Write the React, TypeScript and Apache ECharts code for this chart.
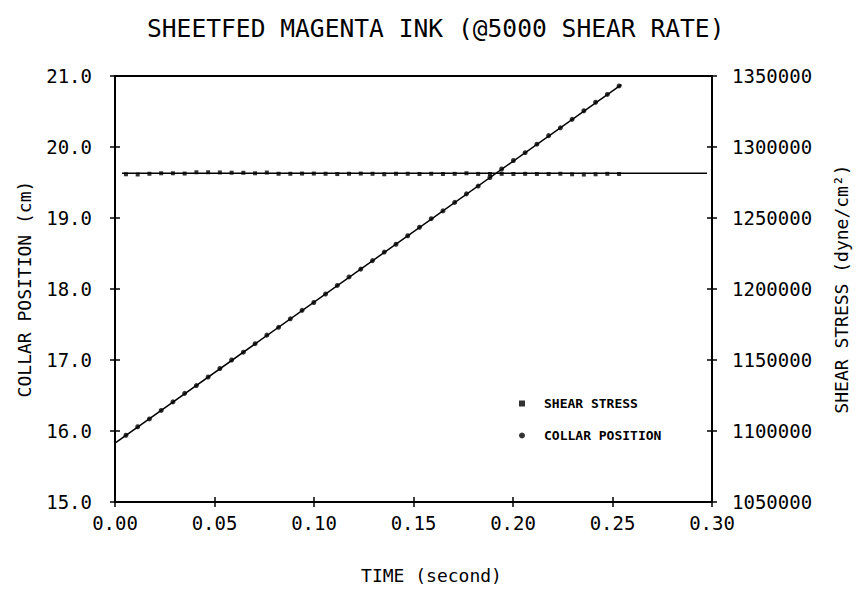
import React, { useEffect, useRef } from "react";
import * as echarts from "echarts";

const FONT = "DejaVu Sans Mono";

const titleText = "SHEETFED MAGENTA INK (@5000 SHEAR RATE)";
const xName = "TIME (second)";
const yLeftName = "COLLAR POSITION (cm)";
const yRightName = "SHEAR STRESS (dyne/cm\u00B2)";
const legendNames = ["SHEAR STRESS", "COLLAR POSITION"];

const times = [
  0.0055, 0.0114, 0.0173, 0.0232, 0.0291, 0.035, 0.0409, 0.0468, 0.0527, 0.0586,
  0.0645, 0.0704, 0.0763, 0.0822, 0.0881, 0.094, 0.0999, 0.1058, 0.1117, 0.1176,
  0.1235, 0.1294, 0.1353, 0.1412, 0.1471, 0.153, 0.1589, 0.1648, 0.1707, 0.1766,
  0.1825, 0.1884, 0.1943, 0.2002, 0.2061, 0.212, 0.2179, 0.2238, 0.2297, 0.2356,
  0.2415, 0.2474, 0.2533,
];

const collarPosition = [
  15.94, 16.06, 16.17, 16.29, 16.41, 16.53, 16.64, 16.76, 16.88, 17.0,
  17.11, 17.23, 17.35, 17.46, 17.58, 17.7, 17.81, 17.93, 18.05, 18.17,
  18.28, 18.4, 18.52, 18.63, 18.75, 18.87, 18.99, 19.1, 19.22, 19.34,
  19.45, 19.57, 19.69, 19.81, 19.92, 20.04, 20.16, 20.27, 20.39, 20.51,
  20.63, 20.74, 20.86,
];

const shearStress = [
  1280800, 1280650, 1281150, 1281500, 1281500, 1281300, 1282200, 1282200, 1282060, 1281900,
  1281850, 1281500, 1282000, 1281150, 1281150, 1281300, 1281300, 1281150, 1280950, 1281150,
  1281300, 1281150, 1280800, 1281150, 1281150, 1281000, 1281150, 1281000, 1281100, 1281500,
  1281050, 1281000, 1281100, 1281000, 1281100, 1281000, 1281000, 1281150, 1280800, 1280600,
  1280800, 1281100, 1281000,
];

const collarFitX = [0, 0.2545];
const collarFitY = [15.83, 20.88];
const shearFitX = [0.0035, 0.2975];
const shearFitY = [1281500, 1281500];

const xTicks = { min: 0, max: 0.3, interval: 0.05 };
const yLeftTicks = { min: 15, max: 21, interval: 1 };
const yRightTicks = { min: 1050000, max: 1350000, interval: 50000 };

export default function App() {
  const ref = useRef<HTMLDivElement>(null);
  useEffect(() => {
    if (!ref.current) return;
    const chart = echarts.init(ref.current, null, { renderer: "svg" });
    // ticks cross the frame: axes are shifted 5px inward, ticks 10px long outward
    const tick = { show: true, inside: false, length: 10, lineStyle: { color: "#000", width: 1.5 } };
    const labelStyle = { color: "#000", fontFamily: FONT, fontSize: 19 };
    const nameStyle = { color: "#000", fontFamily: FONT, fontSize: 18 };

    chart.setOption({
      animation: false,
      backgroundColor: "#fff",
      title: {
        text: titleText,
        left: 142,
        top: 11,
        textStyle: { color: "#000", fontFamily: FONT, fontSize: 24.6, fontWeight: "normal" },
      },
      grid: {
        left: 115,
        right: 156,
        top: 76,
        bottom: 88,
        show: true,
        borderColor: "#000",
        borderWidth: 2,
        backgroundColor: "transparent",
      },
      legend: {
        data: legendNames,
        orient: "vertical",
        left: 514,
        top: 392,
        itemWidth: 6,
        itemHeight: 6,
        itemGap: 19,
        textStyle: {
          color: "#000",
          fontFamily: FONT,
          fontSize: 13,
          fontWeight: "bold",
          padding: [0, 0, 0, 14],
        },
      },
      xAxis: [
        {
          type: "value",
          ...xTicks,
          position: "bottom",
          offset: -5,
          axisLine: { show: false },
          axisTick: tick,
          splitLine: { show: false },
          axisLabel: { ...labelStyle, margin: 16, formatter: (v: number) => v.toFixed(2) },
          name: xName,
          nameLocation: "middle",
          nameGap: 69,
          nameTextStyle: { ...nameStyle, padding: [0, 0, 0, 36] },
        },
      ],
      yAxis: [
        {
          type: "value",
          ...yLeftTicks,
          position: "left",
          offset: -5,
          axisLine: { show: false },
          axisTick: tick,
          splitLine: { show: false },
          axisLabel: { ...labelStyle, margin: 28, formatter: (v: number) => v.toFixed(1) },
          name: yLeftName,
          nameLocation: "middle",
          nameRotate: 90,
          nameGap: 87,
          nameTextStyle: nameStyle,
        },
        {
          type: "value",
          ...yRightTicks,
          position: "right",
          offset: -5,
          axisLine: { show: false },
          axisTick: tick,
          splitLine: { show: false },
          axisLabel: { ...labelStyle, margin: 25, formatter: (v: number) => String(v) },
          name: yRightName,
          nameLocation: "middle",
          nameRotate: 90,
          nameGap: 125,
          nameTextStyle: nameStyle,
        },
      ],
      series: [
        {
          name: legendNames[0],
          type: "scatter",
          xAxisIndex: 0,
          yAxisIndex: 1,
          symbol: "rect",
          symbolSize: 4,
          itemStyle: { color: "#000" },
          data: times.map((t, i) => [t, shearStress[i]]),
        },
        {
          name: legendNames[1],
          type: "scatter",
          xAxisIndex: 0,
          yAxisIndex: 0,
          symbol: "circle",
          symbolSize: 5,
          itemStyle: { color: "#000" },
          data: times.map((t, i) => [t, collarPosition[i]]),
        },
        {
          name: "shear fit",
          type: "line",
          xAxisIndex: 0,
          yAxisIndex: 1,
          showSymbol: false,
          lineStyle: { color: "#000", width: 1.5 },
          data: shearFitX.map((x, i) => [x, shearFitY[i]]),
        },
        {
          name: "collar fit",
          type: "line",
          xAxisIndex: 0,
          yAxisIndex: 0,
          showSymbol: false,
          lineStyle: { color: "#000", width: 1.5 },
          data: collarFitX.map((x, i) => [x, collarFitY[i]]),
        },
      ],
    });
    return () => chart.dispose();
  }, []);
  return (
    <div
      ref={ref}
      style={{ position: "fixed", left: 0, top: 0, width: 868, height: 590 }}
    />
  );
}
